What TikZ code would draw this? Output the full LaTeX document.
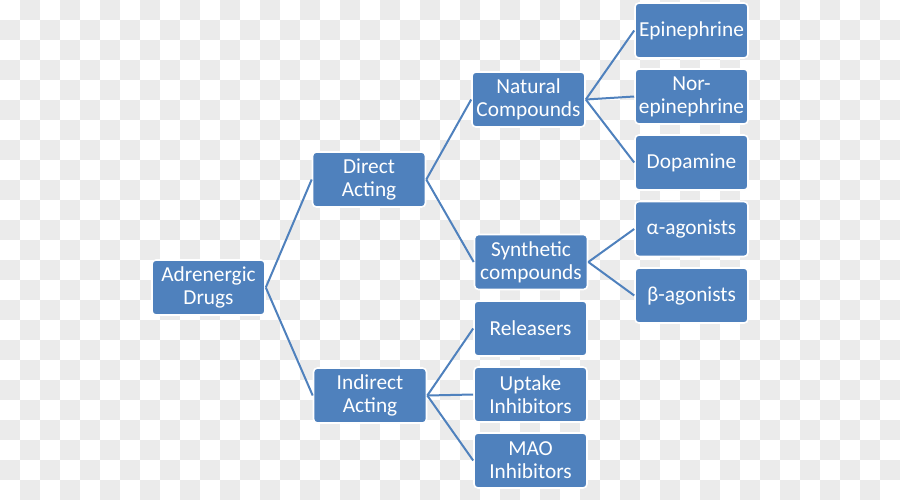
\documentclass[tikz,border=0pt]{standalone}
\usepackage{fontspec}
\setmainfont{Carlito}
\definecolor{boxblue}{HTML}{4F81BD}
\definecolor{checkgrey}{HTML}{EBEBEB}
\tikzset{
  drugbox/.style={draw=white, line width=1.2pt, fill=boxblue, rounded corners=3pt,
    text=white, align=center, inner sep=0pt,
    minimum width=84.75pt, minimum height=41.25pt,
    font=\fontsize{16}{17.2}\selectfont},
  link/.style={draw=boxblue, line width=1.5pt}
}
\begin{document}
\begin{tikzpicture}[x=0.75pt, y=-0.75pt]
\useasboundingbox (0,0) rectangle (900,500);
\fill[white] (0,0) rectangle (900,500);
\foreach \i in {0,...,44}{
  \foreach \j in {0,...,24}{
    \pgfmathtruncatemacro\k{\i+\j}
    \ifodd\k \fill[checkgrey] (\i*20,\j*20) rectangle ++(20,20); \fi
  }
}
\node[drugbox] (adr) at (208.5,287.5) {Adrenergic\\Drugs};
\node[drugbox] (direct) at (369,179.5) {Direct\\Acting};
\node[drugbox] (indirect) at (370,395.5) {Indirect\\Acting};
\node[drugbox] (natural) at (528.5,99.5) {Natural\\Compounds};
\node[drugbox] (synth) at (531,262) {Synthetic\\compounds};
\node[drugbox] (epi) at (691.5,30.5) {Epinephrine};
\node[drugbox] (nor) at (691.5,96.5) {Nor-\\epinephrine};
\node[drugbox] (dop) at (691.5,162.5) {Dopamine};
\node[drugbox] (alpha) at (691.5,229) {α-agonists};
\node[drugbox] (beta) at (691.5,295.5) {β-agonists};
\node[drugbox] (rel) at (530.5,328.5) {Releasers};
\node[drugbox] (upt) at (530.5,394.5) {Uptake\\Inhibitors};
\node[drugbox] (mao) at (530.5,460.5) {MAO\\Inhibitors};
\draw[link] (adr.east) -- (direct.west);
\draw[link] (adr.east) -- (indirect.west);
\draw[link] (direct.east) -- (natural.west);
\draw[link] (direct.east) -- (synth.west);
\draw[link] (natural.east) -- (epi.west);
\draw[link] (natural.east) -- (nor.west);
\draw[link] (natural.east) -- (dop.west);
\draw[link] (synth.east) -- (alpha.west);
\draw[link] (synth.east) -- (beta.west);
\draw[link] (indirect.east) -- (rel.west);
\draw[link] (indirect.east) -- (upt.west);
\draw[link] (indirect.east) -- (mao.west);
\end{tikzpicture}
\end{document}
